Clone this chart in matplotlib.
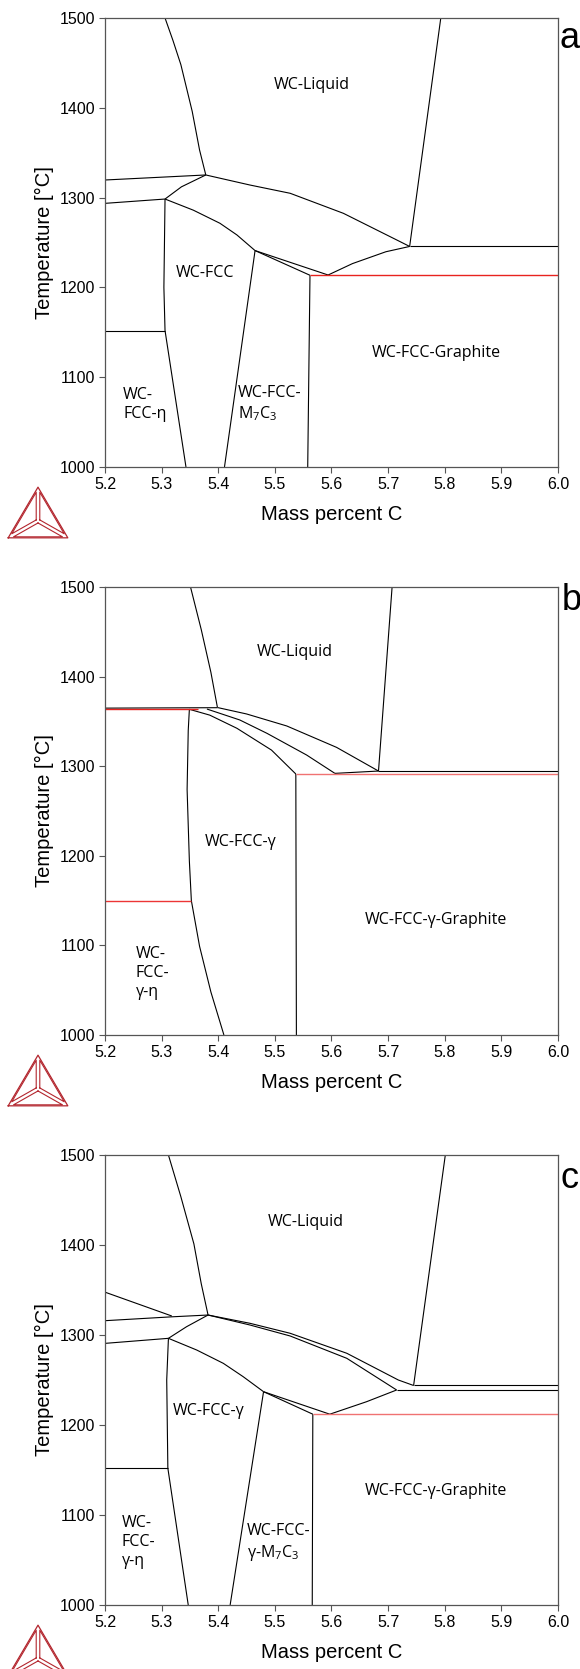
import matplotlib
matplotlib.use("Agg")
import matplotlib.pyplot as plt
import numpy as np

W, H = 580, 1669

# ---------------- common axis data ----------------
x_ticks = [5.2, 5.3, 5.4, 5.5, 5.6, 5.7, 5.8, 5.9, 6.0]
x_tick_labels = ["5.2", "5.3", "5.4", "5.5", "5.6", "5.7", "5.8", "5.9", "6.0"]
y_ticks = [1000, 1100, 1200, 1300, 1400, 1500]
y_tick_labels = ["1000", "1100", "1200", "1300", "1400", "1500"]
x_label = "Mass percent C"
y_label = "Temperature [°C]"

# ---------------- panel a ----------------
a_liq_left_x = [5.306, 5.320, 5.334, 5.354, 5.367, 5.378]
a_liq_left_t = [1500, 1475, 1448, 1396, 1353, 1325.2]
a_tie1_x = [5.2, 5.378]
a_tie1_t = [1319.6, 1325.2]
a_tie2_x = [5.2, 5.306]
a_tie2_t = [1293.6, 1298.4]
a_link_x = [5.306, 5.335, 5.378]
a_link_t = [1298.4, 1312, 1325.2]
a_liq_low_x = [5.378, 5.456, 5.527, 5.621, 5.721, 5.738]
a_liq_low_t = [1325.2, 1314, 1304.8, 1282.5, 1251, 1245.6]
a_fcc_top_x = [5.306, 5.356, 5.403, 5.433, 5.465]
a_fcc_top_t = [1298.4, 1286, 1271.4, 1258.4, 1241]
a_m7_a_x = [5.465, 5.594]
a_m7_a_t = [1241, 1213.8]
a_m7_b_x = [5.465, 5.562]
a_m7_b_t = [1241, 1213.5]
a_gr_x = [5.594, 5.637, 5.696, 5.738]
a_gr_t = [1213.8, 1226.5, 1239.7, 1245.6]
a_liq_right_x = [5.793, 5.738]
a_liq_right_t = [1500, 1245.6]
a_hor_x = [5.738, 6.0]
a_hor_t = [1245.6, 1245.6]
a_vert_x = [5.562, 5.558]
a_vert_t = [1213.5, 1000]
a_m7_left_x = [5.465, 5.411]
a_m7_left_t = [1241, 1000]
a_fcc_left_x = [5.306, 5.304, 5.306, 5.343]
a_fcc_left_t = [1298.4, 1200, 1152, 1000]
a_eta_x = [5.2, 5.306]
a_eta_t = [1152, 1152]
a_red_x = [5.562, 6.0]
a_red_t = [1213.5, 1213.5]

# ---------------- panel b ----------------
b_liq_left_x = [5.351, 5.370, 5.387, 5.3985]
b_liq_left_t = [1500, 1452.4, 1404.8, 1365.7]
b_top_x = [5.2, 5.3985]
b_top_t = [1364.8, 1365.3]
b_curve1_x = [5.349, 5.385, 5.433, 5.494, 5.537]
b_curve1_t = [1363.5, 1357, 1342.3, 1318, 1291.3]
b_curve2_x = [5.380, 5.438, 5.486, 5.556, 5.606]
b_curve2_t = [1363.8, 1351.6, 1336.7, 1312.5, 1292]
b_curve3_x = [5.3985, 5.450, 5.521, 5.609, 5.683]
b_curve3_t = [1365.5, 1358.3, 1344.9, 1321, 1294.6]
b_liq_right_x = [5.707, 5.683]
b_liq_right_t = [1500, 1294.6]
b_link_x = [5.606, 5.683]
b_link_t = [1292, 1294.6]
b_hor_x = [5.683, 6.0]
b_hor_t = [1294.6, 1294.6]
b_vert_x = [5.537, 5.538]
b_vert_t = [1291.3, 1000]
b_fcc_left_x = [5.349, 5.347, 5.345, 5.349, 5.3525, 5.367, 5.387, 5.410]
b_fcc_left_t = [1363.5, 1340, 1274, 1194, 1150, 1099, 1048, 1000]
b_red_top_x = [5.2, 5.365]
b_red_top_t = [1363.6, 1363.6]
b_red_eta_x = [5.2, 5.3525]
b_red_eta_t = [1150, 1150]
b_red_gr_x = [5.537, 6.0]
b_red_gr_t = [1291.3, 1291.3]

# ---------------- panel c ----------------
c_liq_left_x = [5.312, 5.334, 5.357, 5.370, 5.382]
c_liq_left_t = [1500, 1453.6, 1401.2, 1356.9, 1322.2]
c_diag_x = [5.2, 5.318]
c_diag_t = [1347.6, 1321.1]
c_tie1_x = [5.2, 5.318, 5.382]
c_tie1_t = [1315.9, 1320.2, 1322.2]
c_tie2_x = [5.2, 5.312]
c_tie2_t = [1290.7, 1296.3]
c_link_x = [5.312, 5.344, 5.382]
c_link_t = [1296.3, 1309.2, 1322.2]
c_liq_low1_x = [5.382, 5.456, 5.527, 5.627, 5.718, 5.745]
c_liq_low1_t = [1322.2, 1313, 1301.9, 1279.7, 1250, 1243.9]
c_liq_low2_x = [5.382, 5.456, 5.527, 5.627, 5.715]
c_liq_low2_t = [1322.2, 1311.1, 1298.9, 1274.1, 1238.9]
c_fcc_top_x = [5.312, 5.362, 5.409, 5.444, 5.480]
c_fcc_top_t = [1296.3, 1283.3, 1268.5, 1253.7, 1237]
c_m7_a_x = [5.480, 5.597]
c_m7_a_t = [1237, 1212]
c_m7_b_x = [5.480, 5.567]
c_m7_b_t = [1237, 1212]
c_gr_x = [5.597, 5.662, 5.715]
c_gr_t = [1212, 1225.9, 1238.9]
c_liq_right_x = [5.801, 5.745]
c_liq_right_t = [1500, 1243.9]
c_hor1_x = [5.745, 6.0]
c_hor1_t = [1243.9, 1243.9]
c_hor2_x = [5.715, 6.0]
c_hor2_t = [1238.9, 1238.9]
c_vert_x = [5.567, 5.566]
c_vert_t = [1212, 1000]
c_m7_left_x = [5.480, 5.421]
c_m7_left_t = [1237, 1000]
c_fcc_left_x = [5.312, 5.309, 5.311, 5.347]
c_fcc_left_t = [1296.3, 1250, 1152, 1000]
c_eta_x = [5.2, 5.311]
c_eta_t = [1152, 1152]
c_red_x = [5.567, 6.0]
c_red_t = [1212, 1212]

# region labels: (text, x, T, ha)
a_labels = [("WC-Liquid", 5.566, 1425, "center"),
            ("WC-FCC", 5.377, 1216, "center"),
            ("WC-FCC-Graphite", 5.786, 1127, "center"),
            ("WC-\nFCC-η", 5.232, 1070, "left"),
            ("WC-FCC-\nM$_\\mathregular{7}$C$_\\mathregular{3}$", 5.434, 1070, "left")]
b_labels = [("WC-Liquid", 5.536, 1427, "center"),
            ("WC-FCC-γ", 5.439, 1215, "center"),
            ("WC-FCC-γ-Graphite", 5.784, 1128, "center"),
            ("WC-\nFCC-\nγ-η", 5.254, 1069, "left")]
c_labels = [("WC-Liquid", 5.554, 1426, "center"),
            ("WC-FCC-γ", 5.383, 1216, "center"),
            ("WC-FCC-γ-Graphite", 5.784, 1127, "center"),
            ("WC-\nFCC-\nγ-η", 5.229, 1070, "left"),
            ("WC-FCC-\nγ-M$_\\mathregular{7}$C$_\\mathregular{3}$", 5.451, 1069, "left")]

a_black = [(a_liq_left_x, a_liq_left_t), (a_tie1_x, a_tie1_t), (a_tie2_x, a_tie2_t),
           (a_link_x, a_link_t), (a_liq_low_x, a_liq_low_t), (a_fcc_top_x, a_fcc_top_t),
           (a_m7_a_x, a_m7_a_t), (a_m7_b_x, a_m7_b_t), (a_gr_x, a_gr_t),
           (a_liq_right_x, a_liq_right_t), (a_hor_x, a_hor_t), (a_vert_x, a_vert_t),
           (a_m7_left_x, a_m7_left_t), (a_fcc_left_x, a_fcc_left_t), (a_eta_x, a_eta_t)]
a_red = [(a_red_x, a_red_t, "#e8231f")]

b_black = [(b_liq_left_x, b_liq_left_t), (b_top_x, b_top_t), (b_curve1_x, b_curve1_t),
           (b_curve2_x, b_curve2_t), (b_curve3_x, b_curve3_t), (b_liq_right_x, b_liq_right_t),
           (b_link_x, b_link_t), (b_hor_x, b_hor_t), (b_vert_x, b_vert_t),
           (b_fcc_left_x, b_fcc_left_t)]
b_red = [(b_red_top_x, b_red_top_t, "#e8231f"), (b_red_eta_x, b_red_eta_t, "#ec3535"),
         (b_red_gr_x, b_red_gr_t, "#f07272")]

c_black = [(c_liq_left_x, c_liq_left_t), (c_diag_x, c_diag_t), (c_tie1_x, c_tie1_t),
           (c_tie2_x, c_tie2_t), (c_link_x, c_link_t), (c_liq_low1_x, c_liq_low1_t),
           (c_liq_low2_x, c_liq_low2_t), (c_fcc_top_x, c_fcc_top_t), (c_m7_a_x, c_m7_a_t),
           (c_m7_b_x, c_m7_b_t), (c_gr_x, c_gr_t), (c_liq_right_x, c_liq_right_t),
           (c_hor1_x, c_hor1_t), (c_hor2_x, c_hor2_t), (c_vert_x, c_vert_t),
           (c_m7_left_x, c_m7_left_t), (c_fcc_left_x, c_fcc_left_t), (c_eta_x, c_eta_t)]
c_red = [(c_red_x, c_red_t, "#f07272")]

plt.rcParams["mathtext.fontset"] = "custom"
plt.rcParams["mathtext.rm"] = "Open Sans"

fig = plt.figure(figsize=(W / 100, H / 100), dpi=100)
fig.patch.set_facecolor("white")

AX_FONT = ["Liberation Sans", "DejaVu Sans"]
LBL_FONT = ["Open Sans", "DejaVu Sans"]
SPINE = "#555555"


def px_axes(left, top, width, height):
    return fig.add_axes([left / W, 1 - (top + height) / H, width / W, height / H])


def draw_logo(apex_top):
    # Thermo-Calc style triangle logo (decoration)
    lw_px, lh_px = 62, 53
    lax = px_axes(7, apex_top - 1, lw_px, lh_px)
    lax.set_xlim(-0.02, 1.02)
    lax.set_ylim(-0.02, 0.886)
    lax.axis("off")
    col = "#b3262e"
    v = np.array([[0, 0], [1, 0], [0.5, 0.866]])
    c = v.mean(axis=0)
    tri = np.vstack([v, v[:1]])
    lax.plot(tri[:, 0], tri[:, 1], color=col, lw=0.9)
    for i in range(3):
        p = np.array([c, v[i], v[(i + 1) % 3]])
        inc = p.mean(axis=0)
        q = inc + (p - inc) * 0.82
        q = np.vstack([q, q[:1]])
        lax.plot(q[:, 0], q[:, 1], color=col, lw=0.8)


def draw_panel(top, height, black, red, labels, letter, letter_xy):
    ax = px_axes(105, top, 453, height)
    for xs, ts in black:
        ax.plot(xs, ts, color="black", lw=0.8, solid_capstyle="butt")
    for xs, ts, col in red:
        ax.plot(xs, ts, color=col, lw=1.0, solid_capstyle="butt")
    for txt, x, t, ha in labels:
        ax.text(x, t, txt, ha=ha, va="center", fontsize=11.5, family=LBL_FONT,
                linespacing=1.25)
    ax.set_xlim(5.2, 6.0)
    ax.set_ylim(1000, 1500)
    ax.set_xticks(x_ticks)
    ax.set_xticklabels(x_tick_labels)
    ax.set_yticks(y_ticks)
    ax.set_yticklabels(y_tick_labels)
    ax.tick_params(direction="out", length=4, width=0.8, color=SPINE, pad=3,
                   labelsize=11.5)
    for lab in ax.get_xticklabels() + ax.get_yticklabels():
        lab.set_family(AX_FONT)
    for s in ax.spines.values():
        s.set_color(SPINE)
        s.set_linewidth(0.9)
    ax.set_xlabel(x_label, fontsize=14.5, family=AX_FONT, va="center")
    ax.xaxis.set_label_coords(0.5, -47 / height)
    ax.set_ylabel(y_label, fontsize=14.5, family=AX_FONT, va="center", ha="center")
    ax.yaxis.set_label_coords(-61 / 453, 0.5)
    fig.text(letter_xy[0] / W, 1 - letter_xy[1] / H, letter, fontsize=26,
             family=AX_FONT, ha="center", va="center")
    draw_logo(top + height + 20)
    return ax


draw_panel(18, 449, a_black, a_red, a_labels, "a", (570, 38))
draw_panel(587, 448, b_black, b_red, b_labels, "b", (572, 600))
draw_panel(1155, 450, c_black, c_red, c_labels, "c", (570, 1179))

fig.savefig("out.png", dpi=100, facecolor="white")
